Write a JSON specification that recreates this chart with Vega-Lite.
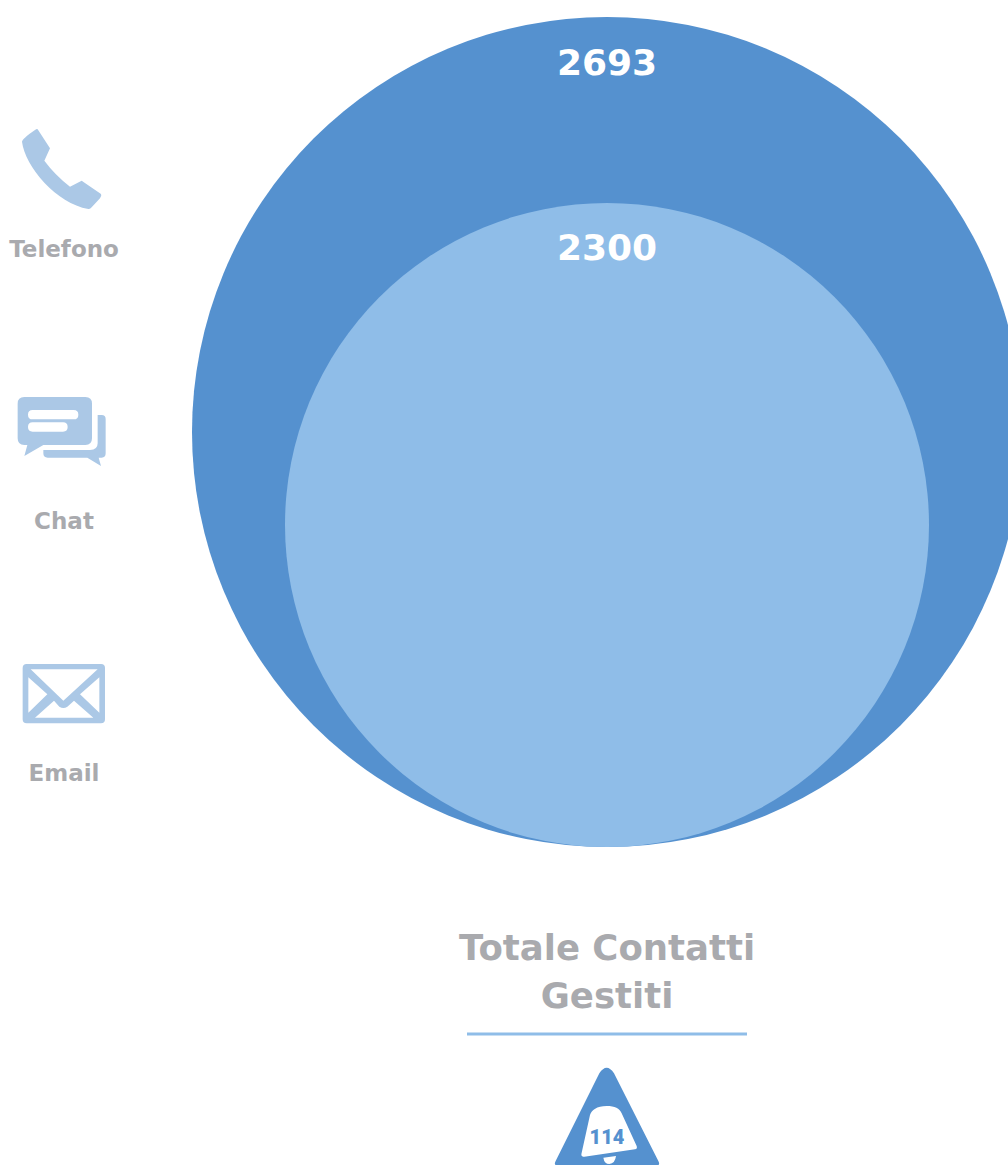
{
"$schema":"https://vega.github.io/schema/vega-lite/v6.json",
"width":1008,"height":1165,"padding":0,"autosize":{"type":"none"},
"background":"white",
"config":{"view":{"stroke":null}},
"datasets":{
"circles":[{"serie":"Esterno","value":2693,"group":"totale"},{"serie":"Interno","value":2300,"group":"totale"}],
"channels":[{"channel":"Telefono","group":"canali"},{"channel":"Chat","group":"canali"},{"channel":"Email","group":"canali"}],
"total":[{"label":"Totale Contatti\nGestiti","badge":"114","group":"totale"}]
},
"encoding":{"x":{"field":"group","type":"nominal","axis":null,"scale":{"type":"point","padding":0,"domain":["canali","totale"],"range":[62,607]}}},
"layer":[
{"data":{"name":"circles"},"mark":{"type":"circle","opacity":1},
"encoding":{
"y":{"field":"value","type":"quantitative","axis":null,"scale":{"domain":[2300,2693],"range":[525,432],"zero":false,"nice":false}},
"size":{"field":"value","type":"quantitative","legend":null,"scale":{"domain":[2300,2693],"range":[414736,688900],"zero":false}},
"color":{"field":"value","type":"nominal","legend":null,"scale":{"domain":[2693,2300],"range":["#5591CF","#8FBDE8"]}}
}},
{"data":{"name":"circles"},"mark":{"type":"text","font":"DejaVu Sans","fontWeight":700,"fontSize":36,"color":"white","baseline":"middle","align":"center"},
"encoding":{
"y":{"field":"value","type":"quantitative","axis":null,"scale":{"domain":[2300,2693],"range":[249,64],"zero":false,"nice":false}},
"text":{"field":"value","type":"quantitative","format":"d"}
}},
{"data":{"name":"channels"},"mark":{"type":"point","filled":true,"opacity":1,"color":"#ABC8E6","size":10000,"strokeWidth":0},
"encoding":{
"y":{"field":"channel","type":"nominal","axis":null,"sort":null,"scale":{"type":"point","padding":0,"domain":["Telefono","Chat","Email"],"range":[169,694]}},
"shape":{"field":"channel","type":"nominal","legend":null,"scale":{"domain":["Telefono","Chat","Email"],"range":[
"M-.8 -.547Q-.8 -.6 -.54 -.78Q-.5 -.81 -.487 -.793L-.24 -.413L-.353 -.167Q-.14 .12 .16 .353L.393 .233L.78 .5Q.8 .53 .76 .587L.593 .767Q.56 .81 .527 .8C-.107 .687 -.74 -.047 -.8 -.547Z",
"M-.754 -.69L.467 -.69Q.6 -.69 .6 -.557L.6 .137Q.6 .27 .467 .27L-.373 .27L-.753 .49L-.693 .27L-.754 .27Q-.887 .27 -.887 .137L-.887 -.557Q-.887 -.69 -.754 -.69ZM-.587 -.43Q-.68 -.43 -.68 -.337Q-.68 -.243 -.587 -.243L.233 -.243Q.327 -.243 .327 -.337Q.327 -.43 .233 -.43ZM-.587 -.183Q-.68 -.183 -.68 -.09Q-.68 .003 -.587 .003L.02 .003Q.113 .003 .113 -.09Q.113 -.183 .02 -.183ZM.713 -.33L.793 -.33Q.873 -.33 .873 -.25L.873 .437Q.873 .523 .793 .523L.733 .523L.78 .69L.507 .523L-.287 .523Q-.373 .523 -.373 .437L-.373 .37L.56 .37Q.713 .37 .713 .237Z",
"M-.707 -.6L.78 -.6Q.86 -.6 .86 -.52L.86 .507Q.86 .587 .78 .587L-.707 .587Q-.787 .587 -.787 .507L-.787 -.52Q-.787 -.6 -.707 -.6ZM-.627 -.493L.027 .133L.713 -.493ZM-.673 -.333L-.673 .373L-.293 .007ZM.747 -.333L.36 .007L.747 .373ZM-.54 .473L.627 .473L.24 .133L.107 .253Q.027 .307 -.053 .253L-.16 .133Z"
]}}
}},
{"data":{"name":"channels"},"transform":[{"filter":"datum.channel==='Telefono'"}],"mark":{"type":"text","font":"DejaVu Sans","fontWeight":700,"fontSize":23,"color":"#A9AAAE","baseline":"middle","align":"center","dx":2},
"encoding":{"y":{"value":250},"text":{"field":"channel"}}},
{"data":{"name":"channels"},"transform":[{"filter":"datum.channel==='Chat'"}],"mark":{"type":"text","font":"DejaVu Sans","fontWeight":700,"fontSize":23,"color":"#A9AAAE","baseline":"middle","align":"center","dx":2},
"encoding":{"y":{"value":522},"text":{"field":"channel"}}},
{"data":{"name":"channels"},"transform":[{"filter":"datum.channel==='Email'"}],"mark":{"type":"text","font":"DejaVu Sans","fontWeight":700,"fontSize":23,"color":"#A9AAAE","baseline":"middle","align":"center","dx":2},
"encoding":{"y":{"value":774},"text":{"field":"channel"}}},
{"data":{"name":"total"},"mark":{"type":"text","font":"DejaVu Sans","fontWeight":700,"fontSize":35.5,"lineHeight":48,"lineBreak":"\n","color":"#A9AAAE","baseline":"top","align":"center"},
"encoding":{"y":{"value":932},"text":{"field":"label"}}},
{"data":{"name":"total"},"mark":{"type":"tick","orient":"horizontal","size":280,"thickness":3,"color":"#8FBDE8","opacity":1},
"encoding":{"y":{"value":1034}}},
{"data":{"name":"total"},"mark":{"type":"point","filled":true,"opacity":1,"color":"#5591CF","size":10000,"strokeWidth":0,
"shape":"M-.153 -.833Q-.007 -1.053 .14 -.833L1.027 .92Q1.06 .987 1.027 1L-1.027 1Q-1.06 .987 -1.027 .92ZM-.007 -.18C-.207 -.18 -.307 -.1 -.34 0L-.513 .787Q-.52 .847 -.453 .833L.56 .687Q.613 .673 .593 .62L.293 -.033C.247 -.133 .16 -.18 -.007 -.18ZM-.073 .853Q-.053 .98 .047 .98Q.16 .973 .18 .82Z"},
"encoding":{"y":{"value":1115}}},
{"data":{"name":"total"},"mark":{"type":"text","font":"Roboto","fontWeight":900,"fontSize":20,"color":"#5591CF","baseline":"middle","align":"center","angle":0},
"encoding":{"y":{"value":1138},"text":{"field":"badge"}}}
],
"resolve":{"scale":{"y":"independent","size":"independent","shape":"independent","color":"independent"}}
}
